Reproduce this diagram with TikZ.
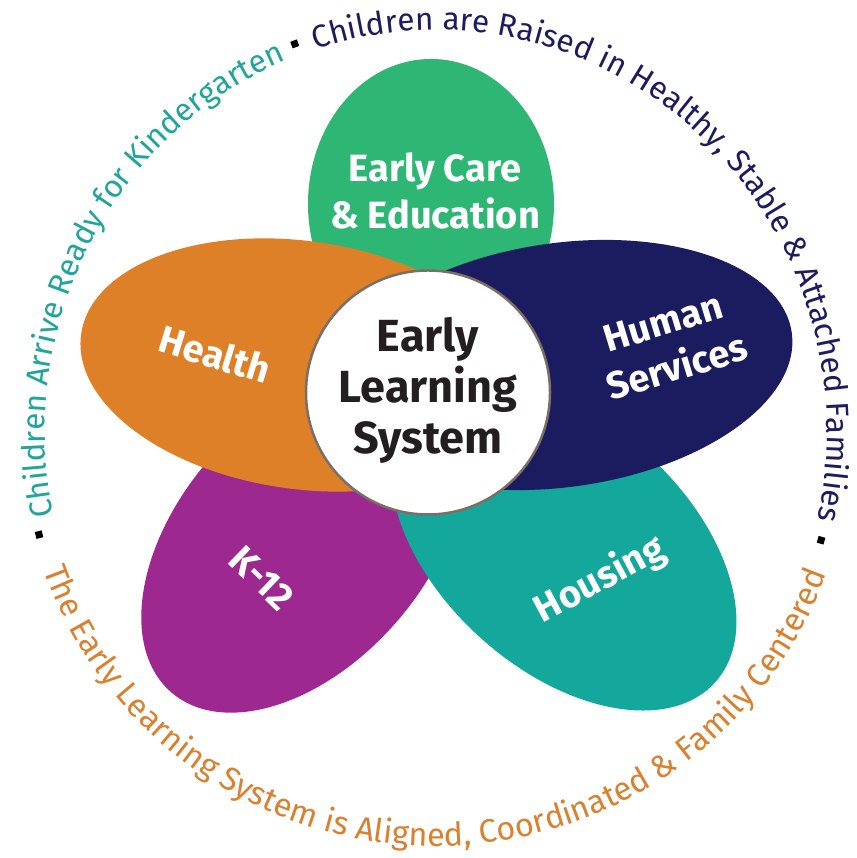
\documentclass[tikz,border=0pt]{standalone}
\usepackage{fontspec}
\setmainfont{Fira Sans}
\usetikzlibrary{shapes.geometric, decorations.text}

\definecolor{petalgreen}{HTML}{2EB674}
\definecolor{petalorange}{HTML}{DE8027}
\definecolor{petalnavy}{HTML}{1B1B5F}
\definecolor{petalpurple}{HTML}{9C2890}
\definecolor{petalteal}{HTML}{14A89D}
\definecolor{ringteal}{HTML}{1FA59A}
\definecolor{ringnavy}{HTML}{1E1C5E}
\definecolor{ringorange}{HTML}{D9812F}
\definecolor{centertext}{HTML}{231F20}
\definecolor{rimgray}{HTML}{7B6E66}

\begin{document}
\begin{tikzpicture}[x=1pt, y=1pt,
    petal/.style={ellipse, inner sep=0pt, draw=none},
    petaltext/.style={text=white, align=center, font=\fontsize{38}{47}\selectfont\bfseries},
    sqdot/.style={rectangle, fill=black, inner sep=0pt, minimum size=7pt}]

    \useasboundingbox (0,0) rectangle (856,858);
    \fill[white] (0,0) rectangle (856,858);

    % Petal for Early Care & Education
    \node[petal, fill=petalgreen, minimum width=246pt, minimum height=290pt] (ece) at (431,654) {};

    % Petal for K-12
    \node[petal, fill=petalpurple, minimum width=402pt, minimum height=248pt, rotate=49] (kpetal) at (303,317.5) {};

    % Petal for Housing
    \node[petal, fill=petalteal, minimum width=408pt, minimum height=248pt, rotate=-42] (hopetal) at (563.6,312.2) {};

    % Petal for Human Services
    \node[petal, fill=petalnavy, minimum width=464pt, minimum height=244pt, rotate=8] (hspetal) at (562,493) {};

    % Petal for Health
    \node[petal, fill=petalorange, minimum width=444pt, minimum height=248pt, rotate=-8] (hepetal) at (301,493) {};

    % Circle for the centre
    \node[circle, draw=rimgray, line width=2.5pt, fill=white, minimum size=244pt, inner sep=0pt] (els) at (428,465.5) {};
    \node[text=centertext, align=center, font=\fontsize{45}{51}\selectfont\bfseries] (elstext) at (428,468) {Early\\Learning\\System};

    % Petal labels
    \node[petaltext] (ecelabel) at (435,667) {Early Care\\\& Education};
    \node[petaltext, rotate=-17] (helabel) at (215,504) {Health};
    \node[petaltext, rotate=17] (hslabel) at (670,513) {Human\\Services};
    \node[petaltext, rotate=28] (holabel) at (600,278) {Housing};
    \node[petaltext, rotate=-44] (klabel) at (262,280) {K-12};

    % Ring of outcomes
    \coordinate (ring) at (436,426);
    {\fontsize{31.5}{31.5}\selectfont
    \path[decorate, decoration={text along path,
        text={|\color{ringteal}|Children Arrive Ready for Kindergarten}}]
        ([shift={(192:391 and 402)}]ring) arc[start angle=192, end angle=100, x radius=391pt, y radius=402pt];
    \path[decorate, decoration={text along path,
        text={|\color{ringnavy}|Children are Raised in Healthy, Stable {\&} Attached Families}}]
        ([shift={(108:391 and 402)}]ring) arc[start angle=108, end angle=-30, x radius=391pt, y radius=402pt];
    }
    {\fontsize{32.5}{32.5}\selectfont
    \path[decorate, decoration={text along path,
        text={|\color{ringorange}|The Early Learning System is Aligned, Coordinated {\&} Family Centered}}]
        ([shift={(199.5:416 and 414)}]ring) arc[start angle=199.5, end angle=355, x radius=416pt, y radius=414pt];
    }

    % Dots between the outcomes
    \node[sqdot, rotate=104] (dotleft) at ([shift={(194.5:410)}]ring) {};
    \node[sqdot, rotate=20] (dottop) at ([shift={(110:413)}]ring) {};
    \node[sqdot, rotate=-16] (dotright) at ([shift={(-15.7:400)}]ring) {};
\end{tikzpicture}
\end{document}
